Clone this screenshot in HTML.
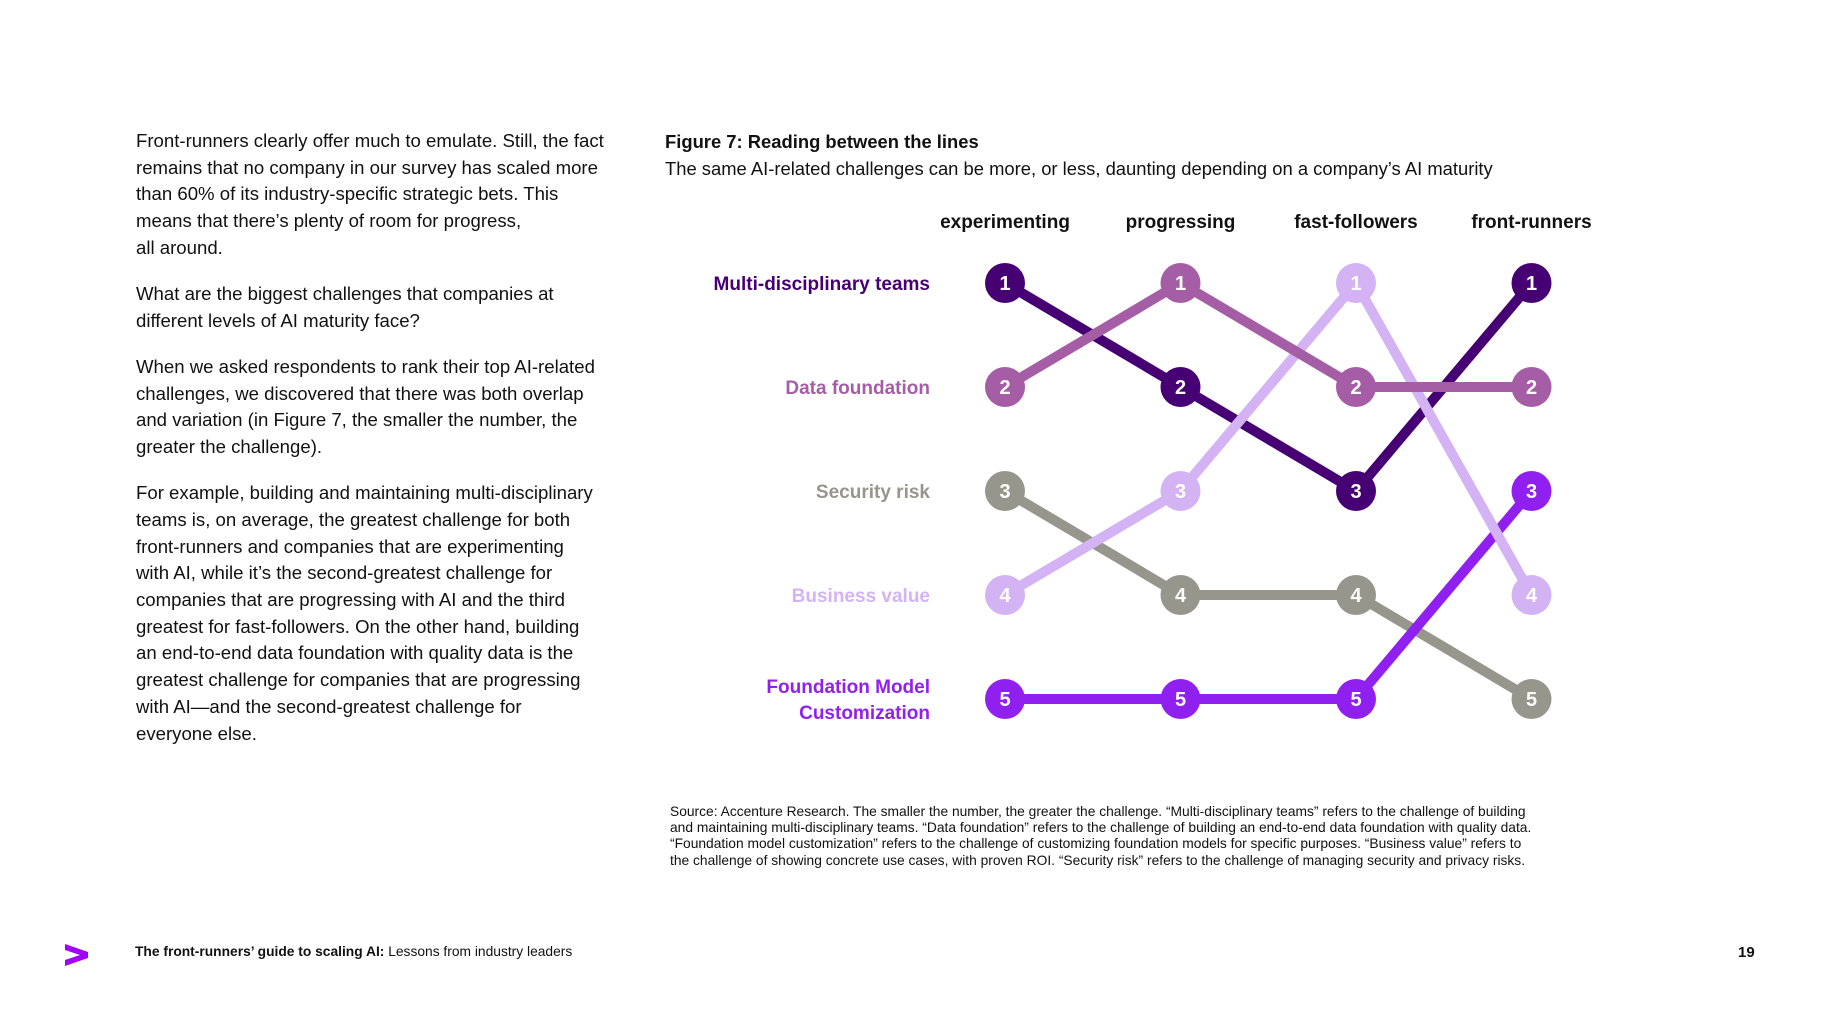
<!DOCTYPE html>
<html><head><meta charset="utf-8">
<style>
body{margin:0;width:1821px;height:1024px;background:#fff;font-family:"Liberation Sans",sans-serif;overflow:hidden;position:relative;color:#111}
.body{position:absolute;left:136px;top:128px;width:540px;font-size:18.6px;line-height:26.7px;white-space:nowrap}
.body p{margin:0 0 19.5px 0}
.t{position:absolute;left:665px;font-size:18.4px}
.src{position:absolute;left:670px;top:804px;font-size:13.8px;line-height:16.2px;white-space:nowrap}
.foot{position:absolute;left:135px;top:944px;font-size:13.8px}
.pg{position:absolute;left:1738px;top:944px;font-size:15px;font-weight:bold}
svg{position:absolute;left:0;top:0}
</style></head><body>
<div class="body">
<p>Front-runners clearly offer much to emulate. Still, the fact<br>remains that no company in our survey has scaled more<br>than 60% of its industry-specific strategic bets. This<br>means that there’s plenty of room for progress,<br>all around.</p>
<p>What are the biggest challenges that companies at<br>different levels of AI maturity face?</p>
<p>When we asked respondents to rank their top AI-related<br>challenges, we discovered that there was both overlap<br>and variation (in Figure 7, the smaller the number, the<br>greater the challenge).</p>
<p>For example, building and maintaining multi-disciplinary<br>teams is, on average, the greatest challenge for both<br>front-runners and companies that are experimenting<br>with AI, while it’s the second-greatest challenge for<br>companies that are progressing with AI and the third<br>greatest for fast-followers. On the other hand, building<br>an end-to-end data foundation with quality data is the<br>greatest challenge for companies that are progressing<br>with AI—and the second-greatest challenge for<br>everyone else.</p>
</div>
<div class="t" style="top:131px;font-weight:bold">Figure 7: Reading between the lines</div>
<div class="t" style="top:158px">The same AI-related challenges can be more, or less, daunting depending on a company’s AI maturity</div>
<svg id="chart" width="1821" height="1024"></svg>
<div class="src">Source: Accenture Research. The smaller the number, the greater the challenge. “Multi-disciplinary teams” refers to the challenge of building<br>and maintaining multi-disciplinary teams. “Data foundation” refers to the challenge of building an end-to-end data foundation with quality data.<br>“Foundation model customization” refers to the challenge of customizing foundation models for specific purposes. “Business value” refers to<br>the challenge of showing concrete use cases, with proven ROI. “Security risk” refers to the challenge of managing security and privacy risks.</div>
<svg width="30" height="26" style="left:63px;top:942px"><path d="M2 2 L25 10 L25 16 L2 24 L2 18 L17 13 L2 8 Z" fill="#a100ff"/></svg>
<div class="foot"><b>The front-runners’ guide to scaling AI:</b> Lessons from industry leaders</div>
<div class="pg">19</div>
<script>
const stages=["experimenting","progressing","fast-followers","front-runners"];
const seriesNames=["Multi-disciplinary teams","Data foundation","Security risk","Business value","Foundation Model Customization"];
const rankMulti=[1,2,3,1];
const rankData=[2,1,2,2];
const rankSecurity=[3,4,4,5];
const rankBusiness=[4,3,1,4];
const rankFMC=[5,5,5,3];
const ranks=[rankMulti,rankData,rankSecurity,rankBusiness,rankFMC];
const colors=["#460073","#a55ea5","#96968c","#d4b3f5","#9020f0"];
const NS="http://www.w3.org/2000/svg";
const svg=document.getElementById('chart');
const xs=i=>1005+i*175.5;
const ys=r=>283+(r-1)*104;
function mk(t,a){const e=document.createElementNS(NS,t);for(const k in a)e.setAttribute(k,a[k]);svg.appendChild(e);return e;}
stages.forEach((s,i)=>{const t=mk('text',{x:xs(i),y:228,'text-anchor':'middle','font-size':19,'font-weight':'bold',fill:'#111'});t.textContent=s;

});
seriesNames.forEach((n,j)=>{const y=ys(j+1);const t=mk('text',{x:930,'text-anchor':'end','font-size':19,'font-weight':'bold',fill:colors[j]});


if(j===4){const a=document.createElementNS(NS,'tspan');a.textContent='Foundation Model';t.appendChild(a);const b=document.createElementNS(NS,'tspan');b.setAttribute('x',930);b.setAttribute('dy',26);b.textContent='Customization';t.appendChild(b);t.setAttribute('y',y-6);}
else{t.setAttribute('y',y+7);t.textContent=n;}});
const order=[2,4,0,3,1];
order.forEach(j=>{const r=ranks[j];const p=mk('polyline',{points:r.map((v,i)=>xs(i)+','+ys(v)).join(' '),fill:'none',stroke:colors[j],'stroke-width':10});

});
order.forEach(j=>{ranks[j].forEach((v,i)=>{const c=mk('circle',{cx:xs(i),cy:ys(v),r:20,fill:colors[j]});


const t=mk('text',{x:xs(i),y:ys(v)+7,'text-anchor':'middle','font-size':20,'font-weight':'bold',fill:'#fff'});t.textContent=v;

});});
</script>
</body></html>
